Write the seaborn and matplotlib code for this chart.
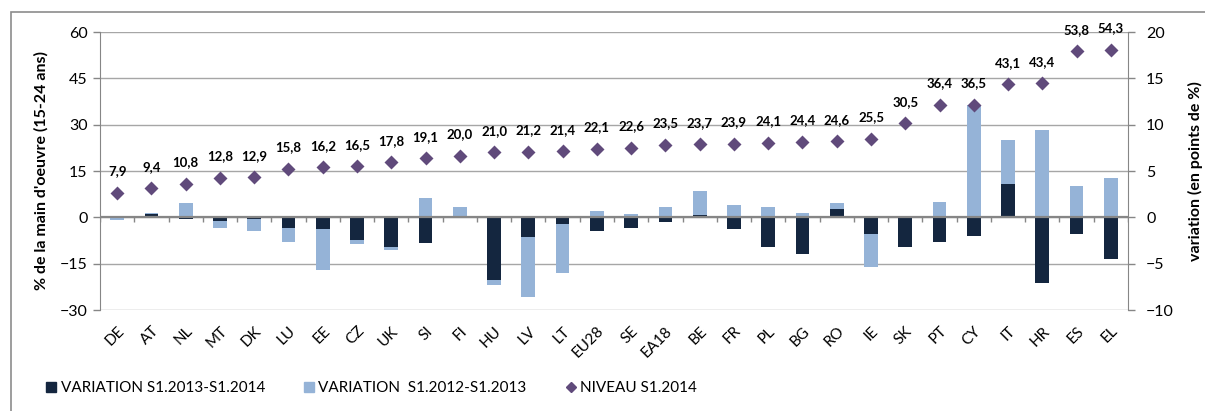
import numpy as np
import matplotlib
matplotlib.use("Agg")
import matplotlib.pyplot as plt
import seaborn as sns
from matplotlib.lines import Line2D
from matplotlib.patches import Rectangle

# data
pays = ["DE", "AT", "NL", "MT", "DK", "LU", "EE", "CZ", "UK", "SI", "FI", "HU", "LV", "LT",
        "EU28", "SE", "EA18", "BE", "FR", "PL", "BG", "RO", "IE", "SK", "PT", "CY", "IT",
        "HR", "ES", "EL"]
niveau_2014 = [7.9, 9.4, 10.8, 12.8, 12.9, 15.8, 16.2, 16.5, 17.8, 19.1, 20.0, 21.0, 21.2,
               21.4, 22.1, 22.6, 23.5, 23.7, 23.9, 24.1, 24.4, 24.6, 25.5, 30.5, 36.4, 36.5,
               43.1, 43.4, 53.8, 54.3]
var_13_14 = [0.0, 0.35, -0.2, -0.35, -0.2, -1.2, -1.3, -2.45, -3.25, -2.8, 0.0, -6.75, -2.1,
             -0.7, -1.45, -1.1, -0.45, 0.3, -1.25, -3.25, -3.95, 0.95, -1.8, -3.25, -2.7,
             -2.0, 3.6, -7.05, -1.85, -4.55]
var_12_13 = [-0.3, 0.15, 1.6, -0.75, -1.25, -1.45, -4.4, -0.45, -0.3, 2.1, 1.1, -0.6, -6.5,
             -5.3, 0.7, 0.35, 1.1, 2.5, 1.3, 1.1, 0.5, 0.55, -3.6, 0.0, 1.7, 12.1, 4.7, 9.4,
             3.4, 4.2]

c_dark = "#14263f"
c_light = "#95b3d7"
c_diam = "#604a7b"
c_grid = "#a6a6a6"

plt.rcParams["font.family"] = ["Lato", "DejaVu Sans"]

d13 = np.array(var_13_14)
d12 = np.array(var_12_13)
# stacked look: light bar runs to the sum when both go the same way
light_top = np.where(np.sign(d12) == np.sign(d13), d12 + d13, d12)

fig = plt.figure(figsize=(12.05, 4.11), dpi=100)
ax = fig.add_axes([100 / 1205, 1 - 310 / 411, 1028 / 1205, 278 / 411])
ax2 = ax.twinx()

# bars on right axis (behind), diamonds on left axis (front)
ax.set_zorder(ax2.get_zorder() + 1)
ax.patch.set_visible(False)

sns.barplot(x=pays, y=light_top, ax=ax2, color=c_light, width=0.4, saturation=1,
            linewidth=0, order=pays)
sns.barplot(x=pays, y=d13, ax=ax2, color=c_dark, width=0.4, saturation=1,
            linewidth=0, order=pays)
sns.pointplot(x=pays, y=niveau_2014, ax=ax, color=c_diam, marker="D", linestyle="none",
              markersize=5.5, order=pays)

for i, v in enumerate(niveau_2014):
    ax.annotate(f"{v:.1f}".replace(".", ","), (i, v), xytext=(0, 15.5),
                textcoords="offset points", ha="center", va="center",
                fontsize=9.5, fontweight="bold", color="black")

ax.set_ylim(-30, 60)
ax.set_yticks(np.arange(-30, 61, 15))
ax2.set_ylim(-10, 20)
ax2.set_yticks(np.arange(-10, 21, 5))
ax.set_xlim(-0.5, len(pays) - 0.5)

ax2.yaxis.grid(True, color=c_grid, linewidth=1)
ax2.set_axisbelow(True)
ax.grid(False)

for a in (ax, ax2):
    for s in a.spines.values():
        s.set_visible(False)
    a.tick_params(axis="y", colors="#868686", labelcolor="black", labelsize=11.5,
                  length=5, width=1)
    a.set_xlabel("")
ax.spines["left"].set_visible(True)
ax.spines["left"].set_color("#868686")
ax2.spines["right"].set_visible(True)
ax2.spines["right"].set_color("#868686")

ax.tick_params(axis="y", pad=4)
ax2.tick_params(axis="y", pad=8)

ax.set_xticks(np.arange(len(pays)))
ax.set_xticklabels(pays, rotation=45, ha="right", rotation_mode="anchor", fontsize=11)
ax.tick_params(axis="x", length=0, pad=10)
ax2.tick_params(axis="x", length=0, labelbottom=False)

# zero line with small tick marks between categories
ax2.axhline(0, color="#868686", linewidth=1.6, zorder=3)
bounds = np.arange(len(pays) + 1) - 0.5
ax2.vlines(bounds, -0.5, 0, color="#868686", linewidth=1, zorder=3)

ax.set_ylabel("% de la main d'oeuvre (15-24 ans)", fontsize=11.5, fontweight="bold",
              labelpad=8)
ax2.set_ylabel("variation (en points de %)", fontsize=11.5, fontweight="bold", labelpad=10)

handles = [
    Line2D([], [], marker="s", linestyle="none", color=c_dark, markersize=7),
    Line2D([], [], marker="s", linestyle="none", color=c_light, markersize=7),
    Line2D([], [], marker="D", linestyle="none", color=c_diam, markersize=5),
]
fig.legend(handles, ["VARIATION S1.2013-S1.2014", "VARIATION  S1.2012-S1.2013",
                     "NIVEAU S1.2014"],
           loc="center left", bbox_to_anchor=(30 / 1205, 1 - 388 / 411), ncol=3,
           frameon=False, fontsize=11, handletextpad=0.1, columnspacing=2.4,
           handlelength=1.0)

# outer chart frame
fig.patches.append(Rectangle((11 / 1205, -0.1), 1.2, 1 - 12 / 411 + 0.1,
                             transform=fig.transFigure, fill=False,
                             edgecolor="#8c8c8c", linewidth=1.2))

fig.savefig("out.png", dpi=100)
